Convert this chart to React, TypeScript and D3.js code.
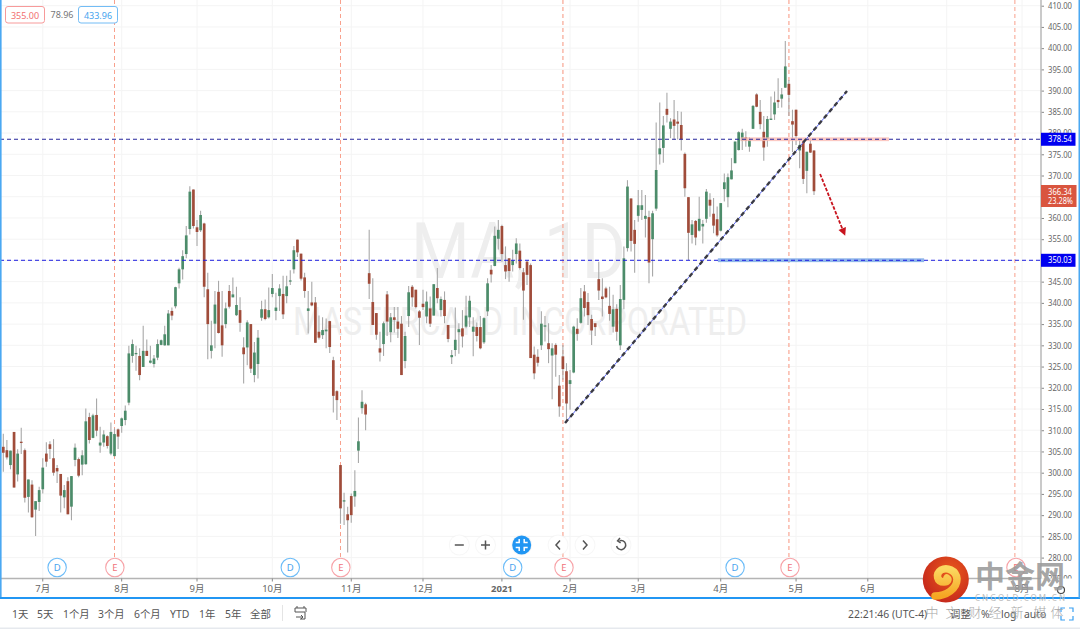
import React, { useEffect, useRef } from "react";
import * as d3 from "d3";

// Daily candles, Jun 2020 to May 2021
const opens = [
  306.1,305.3,301.8,309.6,299.6,307.3,305.3,294.3,297.2,291.3,
  293.1,296.1,304.5,306.7,303.4,301.1,299.7,294.2,298.0,292.0,
  303.0,303.2,301.9,302.0,313.1,308.2,313.6,306.4,307.1,308.6,
  304.5,303.9,310.2,311.0,312.4,316.5,327.5,327.9,327.5,324.9,
  328.7,325.9,325.6,327.1,330.1,330.0,330.0,338.1,339.2,344.6,
  347.9,351.5,357.4,366.7,357.8,357.1,358.7,343.2,328.7,335.1,
  342.6,334.7,335.0,342.8,341.3,337.1,338.3,329.5,329.5,335.0,
  323.0,325.6,336.5,338.5,336.6,342.1,338.1,341.6,342.1,341.6,
  345.0,347.9,354.9,351.6,346.0,338.1,340.1,340.1,333.2,332.4,
  333.3,335.7,326.5,319.2,301.8,293.2,290.2,294.5,294.4,305.2,
  315.2,316.1,347.0,340.2,337.6,329.3,330.3,342.0,333.1,336.6,
  335.6,335.1,326.3,336.9,343.8,343.1,338.0,339.8,336.8,338.7,
  337.0,343.5,338.3,340.7,334.8,327.2,328.9,333.1,334.0,334.4,
  336.6,333.2,334.3,334.3,330.7,338.0,347.8,348.7,355.1,358.1,
  348.9,350.5,348.9,351.5,352.3,347.2,349.7,348.9,327.8,327.3,
  330.0,334.4,330.5,327.6,330.1,320.5,327.4,323.9,320.9,323.6,
  333.9,335.3,342.7,340.2,336.2,335.2,345.6,341.5,343.4,339.3,
  334.4,338.6,330.0,340.7,352.9,364.6,357.2,360.5,361.9,359.8,
  360.2,355.0,362.2,375.0,376.5,385.7,381.0,383.2,382.7,381.9,
  375.1,364.9,356.0,359.3,357.0,358.0,359.8,364.3,361.0,359.7,
  357.0,366.8,364.9,369.1,372.9,376.0,378.2,379.0,376.8,381.0,
  389.1,385.0,380.3,378.6,383.1,384.4,387.8,388.1,390.7,391.6,
  382.8,385.5,375.9,378.0,371.1,377.5,375.9,
];
const highs = [
  309.2,307.7,305.2,309.6,305.5,310.6,305.7,298.4,298.2,293.3,
  296.7,303.4,307.2,307.4,307.9,301.8,299.7,297.1,298.9,299.2,
  306.9,303.6,305.3,315.1,314.1,313.9,317.5,310.8,310.0,308.8,
  311.8,310.4,310.4,313.0,315.8,329.9,331.4,329.9,329.3,334.6,
  331.4,329.9,327.7,331.4,331.4,334.6,338.3,338.9,343.8,348.3,
  352.4,358.1,367.5,366.7,359.5,361.7,358.9,347.1,335.8,342.8,
  345.2,342.8,340.1,344.2,346.0,343.8,341.3,331.9,335.9,335.0,
  330.8,333.6,340.5,340.8,343.6,346.8,342.4,344.4,346.4,346.4,
  347.7,353.4,354.9,351.6,347.1,342.8,345.0,341.4,337.0,336.6,
  336.3,335.8,327.3,319.4,301.8,295.3,292.0,295.1,300.6,313.0,
  319.4,316.5,357.2,345.8,337.6,333.2,335.6,342.8,337.6,339.0,
  339.0,336.9,333.2,344.0,344.2,343.1,338.3,343.1,342.7,341.5,
  344.4,348.2,341.5,342.7,334.8,328.9,338.9,335.2,338.3,341.7,
  341.7,336.6,335.4,336.9,336.6,345.8,348.9,358.0,359.5,358.4,
  353.3,350.5,352.5,355.2,354.0,348.2,350.0,349.3,329.7,329.1,
  338.0,336.9,335.2,330.5,330.5,323.0,330.1,325.8,324.2,334.6,
  336.4,343.5,344.2,342.3,337.2,335.2,349.7,345.8,343.8,343.8,
  341.9,339.7,344.2,353.3,368.9,364.6,359.5,366.6,366.6,365.4,
  361.7,361.7,382.5,387.2,384.0,389.5,383.5,387.8,385.2,385.0,
  375.4,364.9,359.5,359.5,365.0,359.5,366.8,365.8,364.7,362.7,
  363.5,370.5,370.5,374.1,378.0,380.4,381.0,380.4,379.0,386.6,
  389.4,387.8,384.0,384.0,388.6,389.8,392.9,390.6,401.7,392.5,
  385.5,385.5,378.6,378.2,375.6,378.8,375.9,
];
const lows = [
  300.2,303.1,300.8,296.5,297.9,304.4,293.0,290.6,289.4,285.1,
  291.0,295.1,301.4,303.2,299.3,297.6,290.6,291.6,290.2,288.8,
  301.5,298.9,299.4,301.9,306.9,308.1,308.6,304.7,306.1,305.7,
  304.1,303.9,305.6,309.4,311.2,315.9,325.9,324.0,321.8,324.9,
  327.5,325.7,324.8,326.5,330.0,329.9,330.0,335.9,338.7,343.4,
  345.5,350.5,356.1,357.5,353.4,356.7,341.3,326.7,326.9,329.3,
  332.8,327.3,334.0,338.7,341.3,336.9,333.2,321.0,325.3,323.5,
  321.3,322.2,335.8,335.9,336.3,341.3,335.9,338.1,336.2,339.9,
  344.2,346.9,350.8,345.3,341.2,332.8,339.2,330.6,331.4,331.5,
  329.3,328.2,314.2,312.4,288.0,287.7,281.2,288.2,292.0,302.3,
  313.9,310.0,340.9,334.8,331.3,326.2,327.5,332.2,330.7,333.0,
  331.7,323.0,324.6,334.3,339.1,338.7,330.1,338.3,335.2,334.3,
  337.0,339.9,336.8,335.2,330.7,325.6,327.4,328.0,329.5,334.0,
  334.3,327.4,330.9,329.1,330.3,336.9,344.8,348.6,352.6,349.7,
  345.6,345.0,347.4,349.3,347.8,336.0,344.2,327.0,322.0,325.0,
  328.9,330.9,325.8,317.3,322.6,313.2,321.9,311.7,314.8,323.4,
  331.1,335.1,336.8,334.8,330.1,332.2,340.7,336.8,341.1,335.8,
  333.0,331.1,328.9,338.5,352.1,352.1,347.1,359.1,359.5,355.4,
  344.6,346.2,361.7,372.6,373.0,382.5,378.8,378.5,378.5,375.9,
  365.0,350.1,354.0,353.6,356.8,354.0,358.9,360.3,356.4,355.6,
  356.8,363.9,362.5,369.1,372.9,375.9,376.0,376.8,375.6,381.0,
  386.1,380.9,373.5,376.8,383.1,383.1,385.9,386.0,390.6,384.0,
  375.5,377.2,371.7,368.0,365.8,375.3,365.4,
];
const closes = [
  304.7,303.6,305.2,296.5,304.5,307.0,294.1,298.4,289.5,293.3,
  295.9,301.2,302.6,305.6,300.0,300.3,294.6,295.9,290.2,299.2,
  305.9,299.3,304.1,312.1,307.7,313.5,309.9,307.1,309.0,306.3,
  309.6,309.1,308.5,312.8,314.6,328.1,330.3,328.2,323.0,328.7,
  327.5,326.4,326.9,330.3,331.2,332.6,337.5,337.0,343.7,347.9,
  351.0,355.9,366.2,358.1,356.7,360.7,343.8,335.0,330.0,339.6,
  332.9,330.0,338.7,339.1,342.0,339.5,335.3,327.9,335.4,324.5,
  328.3,331.8,338.5,336.2,338.3,343.5,338.9,343.4,337.3,343.9,
  345.3,352.4,351.9,345.7,342.8,338.7,339.4,330.6,331.8,333.6,
  333.7,329.6,318.1,317.1,291.6,293.5,288.8,290.0,295.7,307.4,
  316.7,313.7,344.5,334.8,332.5,328.3,335.2,335.6,336.6,336.0,
  333.9,323.0,332.2,342.5,341.3,339.0,336.5,339.0,340.3,335.1,
  344.4,341.1,340.9,336.9,331.5,327.7,331.3,333.8,332.1,337.0,
  340.5,334.4,332.2,329.3,336.4,344.6,346.7,355.8,357.2,351.5,
  347.4,347.5,350.0,354.0,348.2,342.9,346.6,327.0,323.4,325.9,
  335.1,334.7,329.1,329.3,327.8,315.6,324.4,316.3,321.8,334.4,
  332.7,341.1,338.8,337.1,333.5,334.3,342.9,340.9,341.3,337.4,
  338.5,333.2,340.9,350.5,367.4,354.6,353.9,363.0,363.0,360.5,
  349.5,361.1,371.3,376.4,381.8,384.3,382.7,381.7,382.2,378.5,
  367.0,356.5,358.5,355.4,359.8,358.6,366.2,362.9,358.2,355.9,
  363.5,368.4,369.6,371.2,378.0,380.2,380.1,378.2,378.4,386.4,
  386.2,382.1,376.6,383.3,383.4,387.2,387.3,389.1,395.7,389.0,
  382.0,379.3,377.2,369.2,375.6,375.4,366.3,
];

// Time axis: bar index of each month start
const monthBars = [11, 33, 54, 75, 97, 117, 139, 158, 177, 200, 221, 241, 263, 284];
const monthLabels = ["7月", "8月", "9月", "10月", "11月", "12月", "2021", "2月", "3月", "4月", "5月", "6月", "7月", "8月"];
const earningsBars = [31, 94, 156, 219, 282];
const earningsMarkerBars = [31.1, 94.1, 156.3, 219.3, 282.3];
const dividendBars = [15, 80, 142, 204];

const priceTicks = d3.range(275, 415, 5);
const levelLines = [378.54, 350.03];
const levelColors = ["#26269c", "#1c1ce0"];
const lastPrice = 366.34;
const lastChange = "23.28%";
const rangeLow = "355.00";
const rangeDiff = "78.96";
const rangeHigh = "433.96";

// Drawings
const trendBars = [156.6, 235.2];
const trendPrices = [311.7, 389.9];
const arrowBars = [227.7, 234.7];
const arrowPrices = [370.35, 355.8];
const resistanceBars = [205.5, 246.9];
const resistancePrices = [379.0, 378.1];
const supportBars = [199.2, 256.7];
const supportPrices = [350.5, 349.6];

const rangeTabs = ["1天", "5天", "1个月", "3个月", "6个月", "YTD", "1年", "5年", "全部"];
const rangeTabX = [12, 37, 63, 98, 134, 170, 199, 225, 250];
const sloganChars = ["中", "文", "财", "经", "新", "媒", "体"];
const sloganX = [932, 952, 975, 995, 1017, 1040, 1057];

const UI_FONT = "'Noto Sans', 'Noto Sans CJK SC', sans-serif";

const App = () => {
  const svgRef = useRef<SVGSVGElement>(null);

  useEffect(() => {
    if (!svgRef.current) return;
    const svg = d3.select(svgRef.current);
    svg.selectAll("*").remove();

    const width = 1080;
    const height = 629;
    const axisX = 1041;
    const timeY = 578.5;
    const panelY = 598;

    const x = d3.scaleLinear([0, 226], [3.3, 814]);
    const y = d3.scaleLinear([410, 280], [5.7, 557.6]);

    svg.attr("viewBox", [0, 0, width, height]).style("font-family", UI_FONT);

    const defs = svg.append("defs");
    defs.append("clipPath").attr("id", "pane").append("rect").attr("width", axisX).attr("height", timeY);
    defs.append("clipPath").attr("id", "scale").append("rect").attr("x", axisX).attr("width", 40).attr("height", timeY);
    const ball = defs.append("radialGradient").attr("id", "ball").attr("cx", "60%").attr("cy", "35%").attr("r", "70%");
    ball.append("stop").attr("offset", "0%").attr("stop-color", "#ea5a1c");
    ball.append("stop").attr("offset", "100%").attr("stop-color", "#c4261c");
    const swirl = defs.append("linearGradient").attr("id", "swirl").attr("x1", 0).attr("y1", 0).attr("x2", 0).attr("y2", 1);
    swirl.append("stop").attr("offset", "0%").attr("stop-color", "#fbd860");
    swirl.append("stop").attr("offset", "100%").attr("stop-color", "#f6a623");

    svg.append("rect").attr("width", width).attr("height", height).attr("fill", "#fff");

    const pane = svg.append("g").attr("clip-path", "url(#pane)");

    // Grid
    pane.append("g").selectAll("line").data(priceTicks).join("line")
      .attr("x1", 0).attr("x2", axisX).attr("y1", (d) => y(d)).attr("y2", (d) => y(d))
      .attr("stroke", "#f4f4f4");
    pane.append("g").selectAll("line").data(monthBars).join("line")
      .attr("x1", (d) => x(d)).attr("x2", (d) => x(d)).attr("y1", 0).attr("y2", timeY)
      .attr("stroke", "#f4f4f4");

    // Watermark
    pane.append("text").attr("x", 411).attr("y", 278).attr("textLength", 215).attr("lengthAdjust", "spacingAndGlyphs")
      .attr("font-family", "Roboto").attr("font-weight", 400).attr("font-size", 78).attr("fill", "#eeeeee").text("MA, 1D");
    pane.append("text").attr("x", 293).attr("y", 335).attr("textLength", 454).attr("lengthAdjust", "spacingAndGlyphs")
      .attr("font-family", "Roboto").attr("font-weight", 400).attr("font-size", 38).attr("fill", "#eeeeee").text("MASTERCARD INCORPORATED");

    // Earnings lines
    pane.append("g").selectAll("line").data(earningsBars).join("line")
      .attr("x1", (d) => x(d)).attr("x2", (d) => x(d)).attr("y1", 0).attr("y2", 558)
      .attr("stroke", "#f8a08c").attr("stroke-dasharray", "4,3")
      .attr("stroke-width", (d) => (d === 156 || d === 219 ? 1.6 : 1))
      .attr("stroke-opacity", (d) => (d === 156 || d === 219 ? 0.7 : 1));

    // Candles
    const bars = d3.range(opens.length);
    const candleColor = (i: number) => (closes[i] >= opens[i] ? "#4c8c6a" : "#a04c3a");
    pane.append("g").selectAll("line").data(bars).join("line")
      .attr("x1", (i) => x(i)).attr("x2", (i) => x(i))
      .attr("y1", (i) => y(highs[i])).attr("y2", (i) => y(lows[i]))
      .attr("stroke", "#a8a8a8").attr("stroke-width", 1.1);
    pane.append("g").selectAll("rect").data(bars).join("rect")
      .attr("x", (i) => x(i) - 1.35).attr("width", 2.7)
      .attr("y", (i) => y(Math.max(opens[i], closes[i])))
      .attr("height", (i) => Math.max(1, Math.abs(y(opens[i]) - y(closes[i]))))
      .attr("fill", candleColor);

    // Level bands
    pane.append("rect").attr("x", x(resistanceBars[0])).attr("width", x(resistanceBars[1]) - x(resistanceBars[0]))
      .attr("y", y(resistancePrices[0])).attr("height", y(resistancePrices[1]) - y(resistancePrices[0]))
      .attr("fill", "#fbbcb4").attr("fill-opacity", 0.8);
    pane.append("rect").attr("x", x(supportBars[0])).attr("width", x(supportBars[1]) - x(supportBars[0]))
      .attr("y", y(supportPrices[0])).attr("height", y(supportPrices[1]) - y(supportPrices[0]))
      .attr("fill", "#8fb6ea");

    // Horizontal levels
    pane.append("g").selectAll("line").data(levelLines).join("line")
      .attr("x1", 0).attr("x2", axisX).attr("y1", (d) => y(d)).attr("y2", (d) => y(d))
      .attr("stroke", (_, i) => levelColors[i]).attr("stroke-dasharray", "4,3");

    // Trend line: thin blue dashes under dark ones
    const trend = d3.line<number>().x((b) => x(b)).y((_, i) => y(trendPrices[i]));
    pane.append("path").attr("d", trend(trendBars)).attr("stroke", "#5a66f0").attr("stroke-width", 1).attr("fill", "none");
    pane.append("path").attr("d", trend(trendBars)).attr("stroke", "#3a3a44").attr("stroke-width", 2.4)
      .attr("stroke-dasharray", "4.5,3.5").attr("fill", "none");

    // Red arrow
    const [ax0, ax1] = arrowBars.map((b) => x(b));
    const [ay0, ay1] = arrowPrices.map((p) => y(p));
    const angle = Math.atan2(ay1 - ay0, ax1 - ax0);
    pane.append("line").attr("x1", ax0).attr("y1", ay0).attr("x2", ax1 - 5 * Math.cos(angle)).attr("y2", ay1 - 5 * Math.sin(angle))
      .attr("stroke", "#c8141e").attr("stroke-width", 1.8).attr("stroke-dasharray", "3.5,1.5");
    const head = [[0, 0], [-8, -4], [-8, 4]].map(([a, b]) => [
      ax1 + a * Math.cos(angle) - b * Math.sin(angle),
      ay1 + a * Math.sin(angle) + b * Math.cos(angle),
    ]);
    pane.append("path").attr("d", `M${head.join("L")}Z`).attr("fill", "#c8141e");

    // Earnings and dividend markers
    const marker = (bar: number, label: string, color: string, text: string) => {
      const g = pane.append("g").attr("transform", `translate(${x(bar)},567.5)`);
      g.append("circle").attr("r", 9.2).attr("fill", "#fff").attr("stroke", color).attr("stroke-width", 1.1);
      g.append("text").attr("text-anchor", "middle").attr("y", 3.5).attr("font-size", 9.5).attr("fill", text).text(label);
    };
    dividendBars.forEach((b) => marker(b, "D", "#6cbcf8", "#4aa3ee"));
    earningsMarkerBars.forEach((b) => marker(b, "E", "#f7a3a8", "#f0737c"));

    // Legend box
    const legend = svg.append("g").attr("font-size", 9);
    legend.append("rect").attr("x", 5.5).attr("y", 6.5).attr("width", 39).attr("height", 16.5).attr("rx", 2.5)
      .attr("fill", "#fff").attr("stroke", "#f79a9a");
    legend.append("text").attr("x", 25).attr("y", 18.5).attr("text-anchor", "middle").attr("fill", "#f27070").text(rangeLow);
    legend.append("text").attr("x", 62).attr("y", 18).attr("text-anchor", "middle").attr("fill", "#777").text(rangeDiff);
    legend.append("rect").attr("x", 78.5).attr("y", 6.5).attr("width", 39).attr("height", 16.5).attr("rx", 2.5)
      .attr("fill", "#fff").attr("stroke", "#72bcf5");
    legend.append("text").attr("x", 98).attr("y", 18.5).attr("text-anchor", "middle").attr("fill", "#45a3ee").text(rangeHigh);

    // Zoom buttons
    const buttons = svg.append("g");
    const button = (cx: number, fill: string) => {
      const g = buttons.append("g").attr("transform", `translate(${cx},545)`);
      g.append("circle").attr("r", 10.5).attr("fill", "#f2f2f2").attr("fill-opacity", 0.6);
      g.append("circle").attr("r", 9.5).attr("fill", fill);
      return g.append("g").attr("fill", "none").attr("stroke", fill === "#fff" ? "#555" : "#fff").attr("stroke-width", 1.5);
    };
    button(459.3, "#fff").append("path").attr("d", "M-4.5,0H4.5");
    button(485.5, "#fff").append("path").attr("d", "M-4.5,0H4.5M0,-4.5V4.5");
    button(521.7, "#2196f3").append("path").attr("d", "M-6,-2.5L-2.5,-2.5L-2.5,-6M2.5,-6L2.5,-2.5L6,-2.5M6,2.5L2.5,2.5L2.5,6M-2.5,6L-2.5,2.5L-6,2.5");
    button(558, "#fff").append("path").attr("d", "M2,-4.5L-2,0L2,4.5");
    button(585, "#fff").append("path").attr("d", "M-2,-4.5L2,0L-2,4.5");
    const reload = button(621, "#fff");
    reload.append("path").attr("d", "M-1.5,-4.3A4.6,4.6 0 1 1 -4.4,1");
    reload.append("path").attr("d", "M-1,-7L-3.4,-4.2L-0.4,-2.2");

    // Price scale
    const scale = svg.append("g").attr("clip-path", "url(#scale)");
    scale.append("g").attr("transform", `translate(${axisX},0)`)
      .call(d3.axisRight(y).tickValues(priceTicks).tickFormat((d) => (d as number).toFixed(2)).tickSize(3).tickPadding(4))
      .call((g) => g.select(".domain").remove())
      .call((g) => g.selectAll(".tick line").attr("stroke", "#888"))
      .call((g) => g.selectAll(".tick text").attr("fill", "#666").attr("font-size", 8.6).attr("font-family", UI_FONT)
        .attr("textLength", 24).attr("lengthAdjust", "spacingAndGlyphs"));

    svg.append("line").attr("x1", axisX).attr("x2", axisX).attr("y1", 0).attr("y2", timeY)
      .attr("stroke", "#bdbdbd").attr("stroke-width", 1.6);
    svg.append("line").attr("x1", 0).attr("x2", axisX).attr("y1", timeY).attr("y2", timeY)
      .attr("stroke", "#b4b4b4").attr("stroke-width", 1.6);

    // Level labels
    const labels = svg.append("g").attr("font-size", 8.6).attr("fill", "#fff");
    levelLines.forEach((v) => {
      labels.append("rect").attr("x", axisX).attr("y", y(v) - 6.5).attr("width", 34.5).attr("height", 13).attr("fill", "#0000f0");
      labels.append("text").attr("x", 1048).attr("y", y(v) + 3.2).attr("textLength", 24).attr("lengthAdjust", "spacingAndGlyphs").text(v.toFixed(2));
    });
    labels.append("rect").attr("x", axisX).attr("y", 185).attr("width", 35.5).attr("height", 22).attr("fill", "#d9553f");
    labels.append("text").attr("x", 1048).attr("y", 194.5).attr("textLength", 24).attr("lengthAdjust", "spacingAndGlyphs").text(lastPrice.toFixed(2));
    labels.append("text").attr("x", 1048).attr("y", 204).attr("textLength", 25).attr("lengthAdjust", "spacingAndGlyphs").text(lastChange);

    // Time axis
    const months = svg.append("g").attr("text-anchor", "middle").attr("font-size", 9.5).attr("fill", "#666");
    months.selectAll("line").data(monthBars).join("line")
      .attr("x1", (d) => x(d)).attr("x2", (d) => x(d)).attr("y1", timeY).attr("y2", timeY + 3).attr("stroke", "#888");
    months.selectAll("text").data(monthBars).join("text")
      .attr("x", (d) => x(d)).attr("y", 592)
      .attr("font-weight", (_, i) => (monthLabels[i] === "2021" ? 700 : 400))
      .text((_, i) => monthLabels[i]);

    // Frame
    svg.append("rect").attr("x", 0).attr("y", 0).attr("width", 1.6).attr("height", panelY).attr("fill", "#4aa8f2");
    svg.append("rect").attr("x", 0).attr("y", panelY - 1).attr("width", width).attr("height", 2).attr("fill", "#2196f3");
    svg.append("rect").attr("x", 1078.5).attr("y", 0).attr("width", 1.5).attr("height", panelY).attr("fill", "#4aa8f2");
    svg.append("rect").attr("x", 0).attr("y", 627.5).attr("width", width).attr("height", 1.5).attr("fill", "#e6e9ee");

    // Bottom toolbar
    const bar = svg.append("g").attr("font-size", 10.4).attr("fill", "#555");
    rangeTabs.forEach((t, i) => bar.append("text").attr("x", rangeTabX[i]).attr("y", 618).text(t));
    bar.append("line").attr("x1", 282.5).attr("x2", 282.5).attr("y1", 605).attr("y2", 621).attr("stroke", "#e4e4e4");
    bar.append("path").attr("fill", "none").attr("stroke", "#555").attr("stroke-width", 1)
      .attr("d", "M295,608H306V612M295,608V612H305M297,606V608M304,606V608M296,617H303M301,615L303,617L301,619M305,612V619H300");
    bar.append("text").attr("x", 848).attr("y", 618).text("22:21:46 (UTC-4)");
    bar.append("text").attr("x", 950).attr("y", 618).text("调整");
    bar.append("text").attr("x", 981).attr("y", 618).text("%");
    bar.append("text").attr("x", 1001).attr("y", 618).text("log");
    bar.append("text").attr("x", 1024).attr("y", 618).text("auto");
    bar.append("path").attr("fill", "none").attr("stroke", "#3aa0f2").attr("stroke-width", 1.2)
      .attr("d", "M1061,612V608H1065M1069,608H1073V612M1073,616V620H1069M1065,620H1061V616");

    // Site watermark
    const site = svg.append("g");
    site.append("circle").attr("cx", 1061).attr("cy", 590).attr("r", 3.5).attr("fill", "none").attr("stroke", "#444").attr("stroke-width", 1.2);
    site.append("circle").attr("cx", 945.8).attr("cy", 579.5).attr("r", 23).attr("fill", "url(#ball)");
    site.append("path").attr("fill", "none").attr("stroke", "url(#swirl)").attr("stroke-width", 7.5).attr("stroke-linecap", "round")
      .attr("d", "M935,596C946,596 957,589 957,579C956,570 947,567 941,570C935,574 937,582 944,582C948,582 949,579 947,578");
    site.append("text").attr("x", 975).attr("y", 587).attr("font-family", "'Noto Sans CJK SC'").attr("font-weight", 700)
      .attr("font-size", 30).attr("fill", "#9a9a9a").attr("fill-opacity", 0.9).text("中金网");
    site.append("text").attr("x", 975).attr("y", 601).attr("textLength", 90).attr("font-size", 8).attr("fill", "#bdbdbd").text("CNGOLD.COM.CN");
    sloganChars.forEach((c, i) =>
      site.append("text").attr("x", sloganX[i]).attr("y", 617).attr("text-anchor", "middle")
        .attr("font-family", "'Noto Sans CJK SC'").attr("font-weight", 300).attr("font-size", 13).attr("fill", "#a8a8a8").text(c)
    );
  }, []);

  return <svg ref={svgRef} width={1080} height={629} style={{ position: "absolute", left: 0, top: 0, display: "block" }}></svg>;
};

export default App;
